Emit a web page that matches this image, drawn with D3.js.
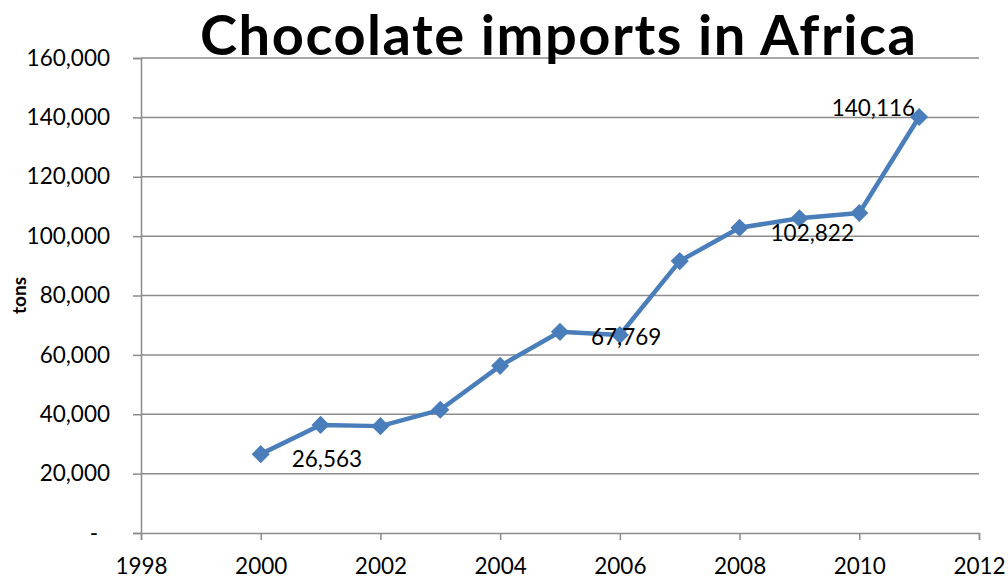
<!DOCTYPE html>
<html>
<head>
<meta charset="utf-8">
<script src="https://cdn.jsdelivr.net/npm/d3@7"></script>
<style>
  body { margin: 0; background: #fff; }
  text { font-family: Lato, "Open Sans", sans-serif; }
</style>
</head>
<body>
<script>
// data
const years = [2000, 2001, 2002, 2003, 2004, 2005, 2006, 2007, 2008, 2009, 2010, 2011];
const imports = [26563, 36400, 36000, 41500, 56300, 67769, 66700, 91600, 102822, 106000, 107800, 140116];
const labelled = [2000, 2005, 2008, 2011];
const yTicks = [0, 20000, 40000, 60000, 80000, 100000, 120000, 140000, 160000];
const xTicks = [1998, 2000, 2002, 2004, 2006, 2008, 2010, 2012];

const width = 1008, height = 579;
const margin = {top: 58, right: 29, bottom: 46, left: 141};

const svg = d3.select("body").append("svg")
    .attr("width", width)
    .attr("height", height);

const x = d3.scaleLinear().domain([1998, 2012]).range([margin.left, width - margin.right]);
const y = d3.scaleLinear().domain([0, 160000]).range([height - margin.bottom, margin.top]);

const fmt = d3.format(",");

// gridlines
svg.append("g")
    .selectAll("line")
    .data(yTicks.slice(1))
    .enter().append("line")
    .attr("x1", margin.left)
    .attr("x2", width - margin.right)
    .attr("y1", d => y(d))
    .attr("y2", d => y(d))
    .attr("stroke", "#8c8c8c")
    .attr("stroke-width", 1.5);

// y axis
const yAxis = svg.append("g")
    .attr("transform", "translate(" + margin.left + ",0)")
    .call(d3.axisLeft(y).tickValues(yTicks).tickSize(8).tickPadding(23)
        .tickFormat(d => d === 0 ? "-" : fmt(d)));

// x axis
const xAxis = svg.append("g")
    .attr("transform", "translate(0," + (height - margin.bottom) + ")")
    .call(d3.axisBottom(x).tickValues(xTicks).tickSize(7).tickPadding(14)
        .tickFormat(d3.format("d")));

[yAxis, xAxis].forEach(a => {
    a.select(".domain").attr("stroke", "#8c8c8c").attr("stroke-width", 1.5);
    a.selectAll(".tick line").attr("stroke", "#8c8c8c").attr("stroke-width", 1.5);
    a.selectAll(".tick text")
        .attr("fill", "#000")
        .style("font-size", "22.5px")
        .style("font-family", "Lato, sans-serif");
});
xAxis.selectAll(".tick text").attr("dy", "0.9em");
// accounting-style dash sits further left
yAxis.selectAll(".tick text").filter(d => d === 0).attr("dx", "-12");

// line
const line = d3.line()
    .x((d, i) => x(years[i]))
    .y(d => y(d));

svg.append("path")
    .datum(imports)
    .attr("fill", "none")
    .attr("stroke", "#4a7ebb")
    .attr("stroke-width", 4.5)
    .attr("stroke-linejoin", "round")
    .attr("d", line);

// diamond markers
svg.append("g")
    .selectAll("path")
    .data(imports)
    .enter().append("path")
    .attr("d", d3.symbol().type(d3.symbolDiamond2).size(210))
    .attr("transform", (d, i) => "translate(" + x(years[i]) + "," + y(d) + ")")
    .attr("fill", "#4a7ebb");

// data labels
svg.append("g")
    .selectAll("text")
    .data(years.map((yr, i) => ({yr: yr, v: imports[i]})).filter(d => labelled.includes(d.yr)))
    .enter().append("text")
    .attr("x", d => d.yr === 2011 ? x(d.yr) - 4 : x(d.yr) + 31)
    .attr("y", d => d.yr === 2011 ? y(d.v) - 1 : y(d.v) + 13)
    .attr("text-anchor", d => d.yr === 2011 ? "end" : "start")
    .style("font-size", "22.5px")
    .attr("fill", "#000")
    .text(d => fmt(d.v));

// title
svg.append("text")
    .attr("x", 558)
    .attr("y", 55)
    .attr("text-anchor", "middle")
    .attr("textLength", 716)
    .attr("lengthAdjust", "spacing")
    .style("font-size", "56px")
    .style("font-weight", "bold")
    .attr("fill", "#000")
    .text("Chocolate imports in Africa");

// y axis title
svg.append("text")
    .attr("transform", "translate(26," + y(80000) + ") rotate(-90)")
    .attr("text-anchor", "middle")
    .style("font-size", "19px")
    .style("font-weight", "bold")
    .attr("fill", "#000")
    .text("tons");
</script>
</body>
</html>
